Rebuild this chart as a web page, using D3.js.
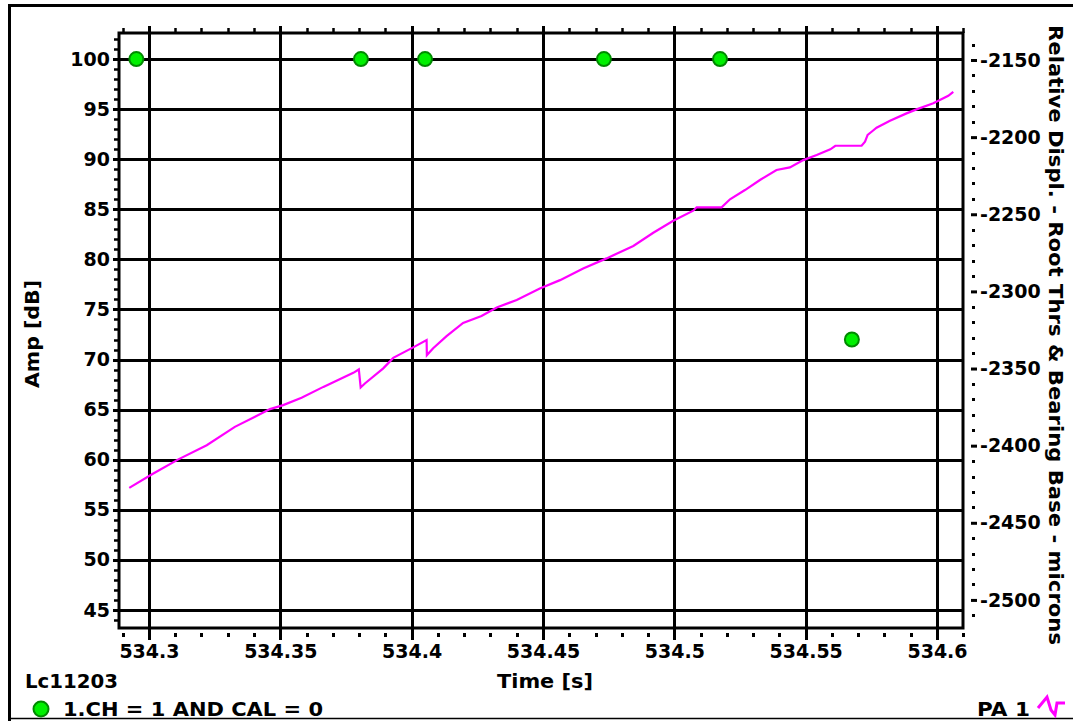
<!DOCTYPE html>
<html>
<head>
<meta charset="utf-8">
<script src="https://cdn.jsdelivr.net/npm/d3@7"></script>
<style>
  body { margin: 0; background: #fff; }
  svg text { font-family: "DejaVu Sans", sans-serif; font-weight: bold; fill: #000; }
</style>
</head>
<body>
<svg id="chart" width="1073" height="721"></svg>
<script>
// time of the hits (s) and their amplitude (dB)
const hitTime = [534.2952, 534.3807, 534.4051, 534.4732, 534.5174, 534.5676];
const hitAmp = [100, 100, 100, 100, 100, 72];

// PA 1 parametric trace: time (s) and relative displacement (microns)
const paTime = [
  534.2925, 534.3010, 534.3112, 534.3220, 534.3327, 534.3461, 534.3511, 534.3581,
  534.3664, 534.3778, 534.3799, 534.3806, 534.3822, 534.3892, 534.3930, 534.4006,
  534.4057, 534.4058, 534.4082, 534.4133, 534.4196, 534.4266, 534.4324, 534.4400,
  534.4488, 534.4565, 534.4653, 534.4742, 534.4844, 534.4920, 534.4996, 534.5072,
  534.5085, 534.5180, 534.5212, 534.5269, 534.5326, 534.5389, 534.5440, 534.5491,
  534.5542, 534.5594, 534.5613, 534.5713, 534.5726, 534.5736, 534.5751, 534.5770,
  534.5821, 534.5884, 534.5922, 534.5986, 534.6043, 534.6062
];
const paDispl = [
  -2427.4, -2418.7, -2408.9, -2399.7, -2387.8, -2376.3, -2373.7, -2369.0,
  -2361.9, -2352.8, -2350.6, -2362.3, -2359.7, -2349.9, -2343.1, -2336.3,
  -2331.6, -2341.3, -2336.8, -2329.0, -2320.4, -2316.0, -2310.4, -2305.6,
  -2298.1, -2292.7, -2285.1, -2278.6, -2270.6, -2262.0, -2254.2, -2247.7,
  -2245.5, -2245.5, -2240.3, -2234.3, -2227.8, -2221.3, -2219.6, -2214.9,
  -2211.6, -2207.9, -2205.6, -2205.6, -2203.0, -2198.6, -2196.5, -2193.9,
  -2189.4, -2184.6, -2182.0, -2178.1, -2173.2, -2170.6
];

// tick labels
const timeTicks = [534.3, 534.35, 534.4, 534.45, 534.5, 534.55, 534.6];
const ampTicks = [45, 50, 55, 60, 65, 70, 75, 80, 85, 90, 95, 100];
const displTicks = [-2500, -2450, -2400, -2350, -2300, -2250, -2200, -2150];

const svg = d3.select("#chart");
const plot = { left: 119, right: 963, top: 33, bottom: 628 };

const x = d3.scaleLinear().domain([534.2886, 534.6099]).range([plot.left, plot.right]);
const yL = d3.scaleLinear().domain([43.2, 102.6]).range([plot.bottom, plot.top]);
const yR = d3.scaleLinear().domain([-2518.2, -2132.5]).range([plot.bottom, plot.top]);

// outer frame
svg.append("path")
  .attr("d", "M9.5,721V5.5H1073")
  .attr("fill", "none").attr("stroke", "#000").attr("stroke-width", 3);
svg.append("line")
  .attr("x1", 8).attr("x2", 1073).attr("y1", 718.5).attr("y2", 718.5)
  .attr("stroke", "#000").attr("stroke-width", 1.5);

// minor ticks
const minorAmp = d3.range(44, 103).filter(v => v % 5 !== 0);
svg.append("g").selectAll("line").data(minorAmp).join("line")
  .attr("x1", plot.left - 5).attr("x2", plot.left)
  .attr("y1", d => Math.round(yL(d)) + 0.5).attr("y2", d => Math.round(yL(d)) + 0.5)
  .attr("stroke", "#000").attr("stroke-width", 2.5);

const minorTime = d3.range(0, 33).map(i => +(534.29 + i * 0.01).toFixed(2))
  .filter(v => Math.round(v * 100) % 5 !== 0);
svg.append("g").selectAll("line").data(minorTime).join("line")
  .attr("x1", d => Math.round(x(d)) + 0.5).attr("x2", d => Math.round(x(d)) + 0.5)
  .attr("y1", plot.top - 5).attr("y2", plot.top)
  .attr("stroke", "#000").attr("stroke-width", 2.5);
svg.append("g").selectAll("rect").data(minorTime).join("rect")
  .attr("x", d => Math.round(x(d)) - 1).attr("y", 633)
  .attr("width", 3).attr("height", 4).attr("fill", "#000");

const minorDispl = d3.range(-2510, -2139, 10).filter(v => v % 50 !== 0);
svg.append("g").selectAll("rect").data(minorDispl).join("rect")
  .attr("x", 972).attr("y", d => Math.round(yR(d)) - 1)
  .attr("width", 3).attr("height", 3).attr("fill", "#000");

// grid
svg.append("g").selectAll("line").data(ampTicks).join("line")
  .attr("x1", plot.left - 6).attr("x2", plot.right)
  .attr("y1", d => Math.round(yL(d)) + 0.5).attr("y2", d => Math.round(yL(d)) + 0.5)
  .attr("stroke", "#000").attr("stroke-width", 3);
svg.append("g").selectAll("line").data(timeTicks).join("line")
  .attr("x1", d => Math.round(x(d)) + 0.5).attr("x2", d => Math.round(x(d)) + 0.5)
  .attr("y1", plot.top - 7).attr("y2", plot.bottom + 12)
  .attr("stroke", "#000").attr("stroke-width", 3);

svg.append("rect")
  .attr("x", plot.left).attr("y", plot.top)
  .attr("width", plot.right - plot.left).attr("height", plot.bottom - plot.top)
  .attr("fill", "none").attr("stroke", "#000").attr("stroke-width", 3);

// axes labels via d3 axes
const axL = svg.append("g")
  .attr("transform", `translate(${plot.left},0)`)
  .call(d3.axisLeft(yL).tickValues(ampTicks).tickSize(0).tickPadding(9).tickFormat(d => String(d)));
const axB = svg.append("g")
  .attr("transform", `translate(0,${plot.bottom})`)
  .call(d3.axisBottom(x).tickValues(timeTicks).tickSize(0).tickFormat(d => String(d)));
const axR = svg.append("g")
  .attr("transform", `translate(971,0)`)
  .call(d3.axisRight(yR).tickValues(displTicks).tickSize(6).tickPadding(3).tickFormat(d => String(d)));
[axL, axB, axR].forEach(a => {
  a.select(".domain").remove();
  a.selectAll("text").attr("font-size", 19).attr("font-family", null);
});
axB.selectAll("text").attr("y", 17).attr("dy", "0.71em");
axR.selectAll("line").attr("stroke-width", 3);

// PA 1 trace
svg.append("path")
  .datum(paTime.map((t, i) => [t, paDispl[i]]))
  .attr("fill", "none").attr("stroke", "#ff00ff").attr("stroke-width", 2.2)
  .attr("d", d3.line().x(d => x(d[0])).y(d => yR(d[1])));

// hits
svg.append("g").selectAll("circle").data(hitTime).join("circle")
  .attr("cx", d => x(d)).attr("cy", (d, i) => yL(hitAmp[i]))
  .attr("r", 7).attr("fill", "#00f000").attr("stroke", "#008a00").attr("stroke-width", 2);

// titles
svg.append("text")
  .attr("transform", "translate(39,334) rotate(-90)")
  .attr("text-anchor", "middle").attr("font-size", 19)
  .attr("textLength", 108).attr("lengthAdjust", "spacingAndGlyphs")
  .text("Amp [dB]");
svg.append("text")
  .attr("transform", "translate(1049,335) rotate(90)")
  .attr("text-anchor", "middle").attr("font-size", 19)
  .attr("textLength", 620).attr("lengthAdjust", "spacingAndGlyphs")
  .text("Relative Displ. - Root Thrs & Bearing Base - microns");
svg.append("text")
  .attr("x", 545).attr("y", 688)
  .attr("text-anchor", "middle").attr("font-size", 19)
  .attr("textLength", 96).attr("lengthAdjust", "spacingAndGlyphs")
  .text("Time [s]");
svg.append("text")
  .attr("x", 25).attr("y", 688).attr("font-size", 19)
  .attr("textLength", 93).attr("lengthAdjust", "spacingAndGlyphs")
  .text("Lc11203");

// legend
svg.append("circle")
  .attr("cx", 41).attr("cy", 709).attr("r", 7.5)
  .attr("fill", "#00f000").attr("stroke", "#008a00").attr("stroke-width", 2);
svg.append("text")
  .attr("x", 63).attr("y", 716).attr("font-size", 19)
  .attr("textLength", 260).attr("lengthAdjust", "spacingAndGlyphs")
  .text("1.CH = 1 AND CAL = 0");
svg.append("text")
  .attr("x", 977).attr("y", 716).attr("font-size", 19)
  .attr("textLength", 53).attr("lengthAdjust", "spacingAndGlyphs")
  .text("PA 1");
const icon = [[0, 8], [9, -3], [13, 10], [17, 15], [19, 3], [27, 3]];
svg.append("path")
  .attr("transform", "translate(1038,700)")
  .attr("fill", "none").attr("stroke", "#ff00ff").attr("stroke-width", 3)
  .attr("d", d3.line()(icon));
</script>
</body>
</html>
